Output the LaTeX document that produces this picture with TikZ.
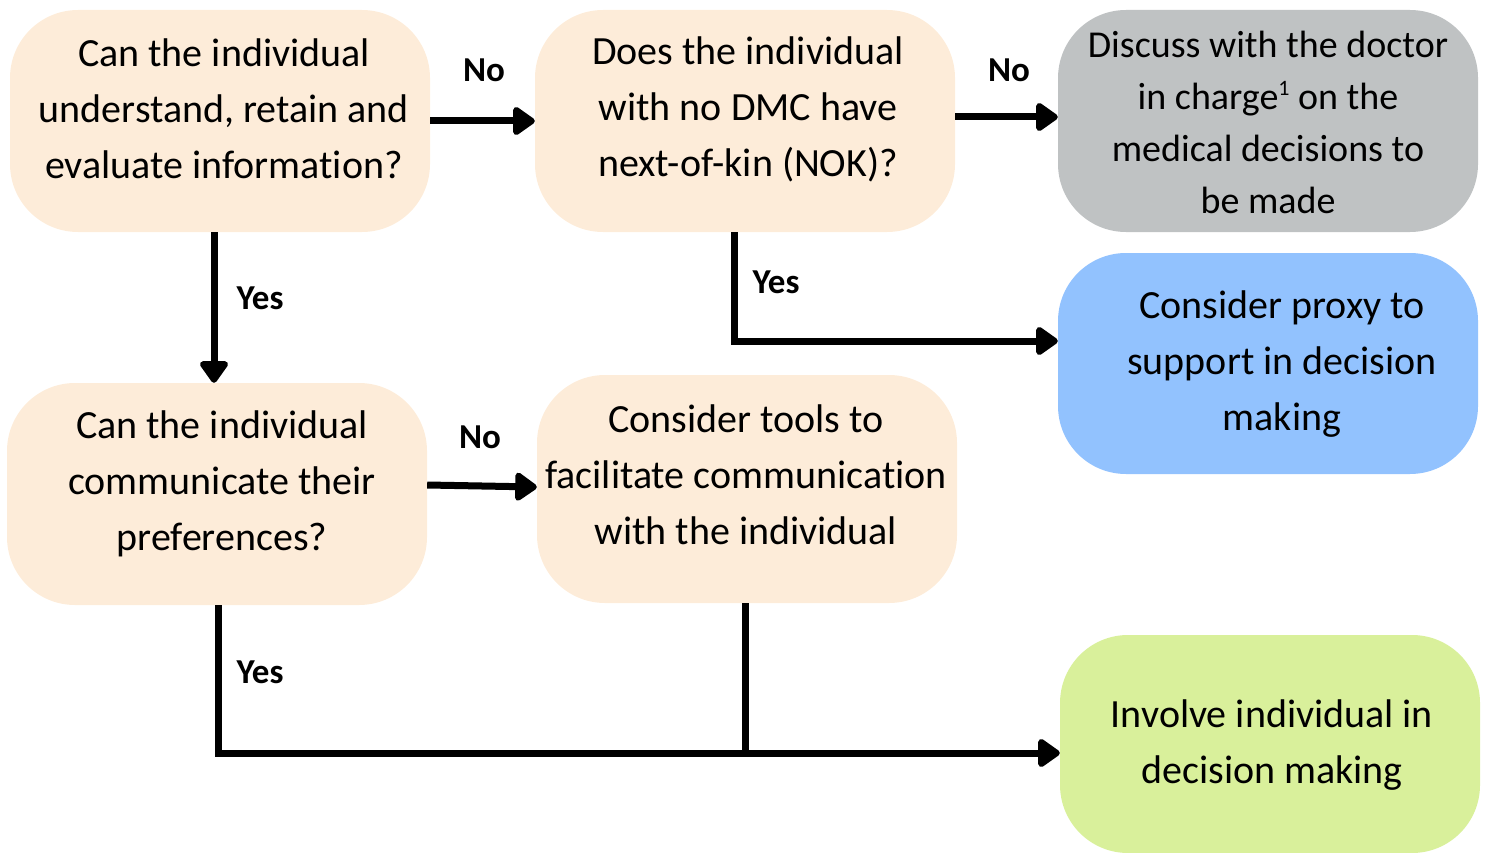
\documentclass[tikz,border=0pt]{standalone}
\usepackage{fontspec}
\setmainfont{Carlito}[Ligatures=NoCommon]
\usetikzlibrary{arrows.meta}
\definecolor{peach}{HTML}{FDECD9}
\definecolor{greybox}{HTML}{BFC2C3}
\definecolor{bluebox}{HTML}{92C2FE}
\definecolor{greenbox}{HTML}{D9F09B}
\begin{document}
\begin{tikzpicture}[x=1pt,y=1pt,
  box/.style={rounded corners=68pt, minimum width=420pt, minimum height=222pt, inner sep=0pt, draw=none},
  txt/.style={align=center, inner sep=0pt, font=\fontsize{40}{56}\selectfont},
  lbl/.style={inner sep=0pt, font=\fontsize{35}{40}\selectfont\bfseries},
  conn/.style={line width=7pt, -{Triangle[length=24pt,width=32pt,round]}},
  plain/.style={line width=7pt}
]
\useasboundingbox (0,0) rectangle (1487,-853);
% boxes
\node[box, fill=peach] (b1) at (220,-121) {};
\node[box, fill=peach] (b2) at (745,-121) {};
\node[box, fill=greybox] (b3) at (1268,-121) {};
\node[box, fill=bluebox, minimum height=221pt] (b4) at (1268,-363.5) {};
\node[box, fill=peach] (b5) at (217,-494) {};
\node[box, fill=peach, minimum height=228pt] (b6) at (747,-489) {};
\node[box, fill=greenbox, minimum height=218pt] (b7) at (1270,-744) {};
% texts
\node[txt] (t1) at (224,-109) {Can the individual\\understand, retain and\\evaluate information?};
\node[txt] (t2) at (748,-109) {Does the individual\\with no DMC have\\next-of-kin (NOK)?};
\node[txt, font=\fontsize{38}{52}\selectfont] (t3) at (1268,-122) {Discuss with the doctor\\in charge{\fontsize{22}{22}\selectfont\raisebox{14pt}{1}} on the\\medical decisions to\\be made};
\node[txt] (t4) at (1282,-364) {Consider proxy to\\support in decision\\making};
\node[txt] (t5) at (222,-484) {Can the individual\\communicate their\\preferences?};
\node[txt] (t6) at (746,-475) {Consider tools to\\facilitate communication\\with the individual};
\node[txt] (t7) at (1272,-745) {Involve individual in\\decision making};
% labels
\node[lbl] (l1) at (484,-70) {No};
\node[lbl] (l2) at (1009,-70) {No};
\node[lbl] (l3) at (260,-298) {Yes};
\node[lbl] (l4) at (776,-282) {Yes};
\node[lbl] (l5) at (480,-437) {No};
\node[lbl] (l6) at (260,-672) {Yes};
% connectors
\draw[conn] (b1.east) -- (b2.west);
\draw[conn] ([yshift=4pt]b2.east) -- ([yshift=4pt]b3.west);
\draw[conn] ([xshift=-6pt]b1.south) -- ([xshift=-3pt]b5.north);
\draw[conn] ([xshift=-11pt]b2.south) |- ([yshift=22.5pt]b4.west);
\draw[conn] ([yshift=9pt]b5.east) -- ([yshift=2pt]b6.west);
\coordinate (jn) at ([yshift=-9pt]b7.west);
\draw[conn] ([xshift=1pt]b5.south) |- (jn);
\draw[plain] ([xshift=-2pt]b6.south) -- ([xshift=-2pt]b6.south |- jn);
\end{tikzpicture}
\end{document}
